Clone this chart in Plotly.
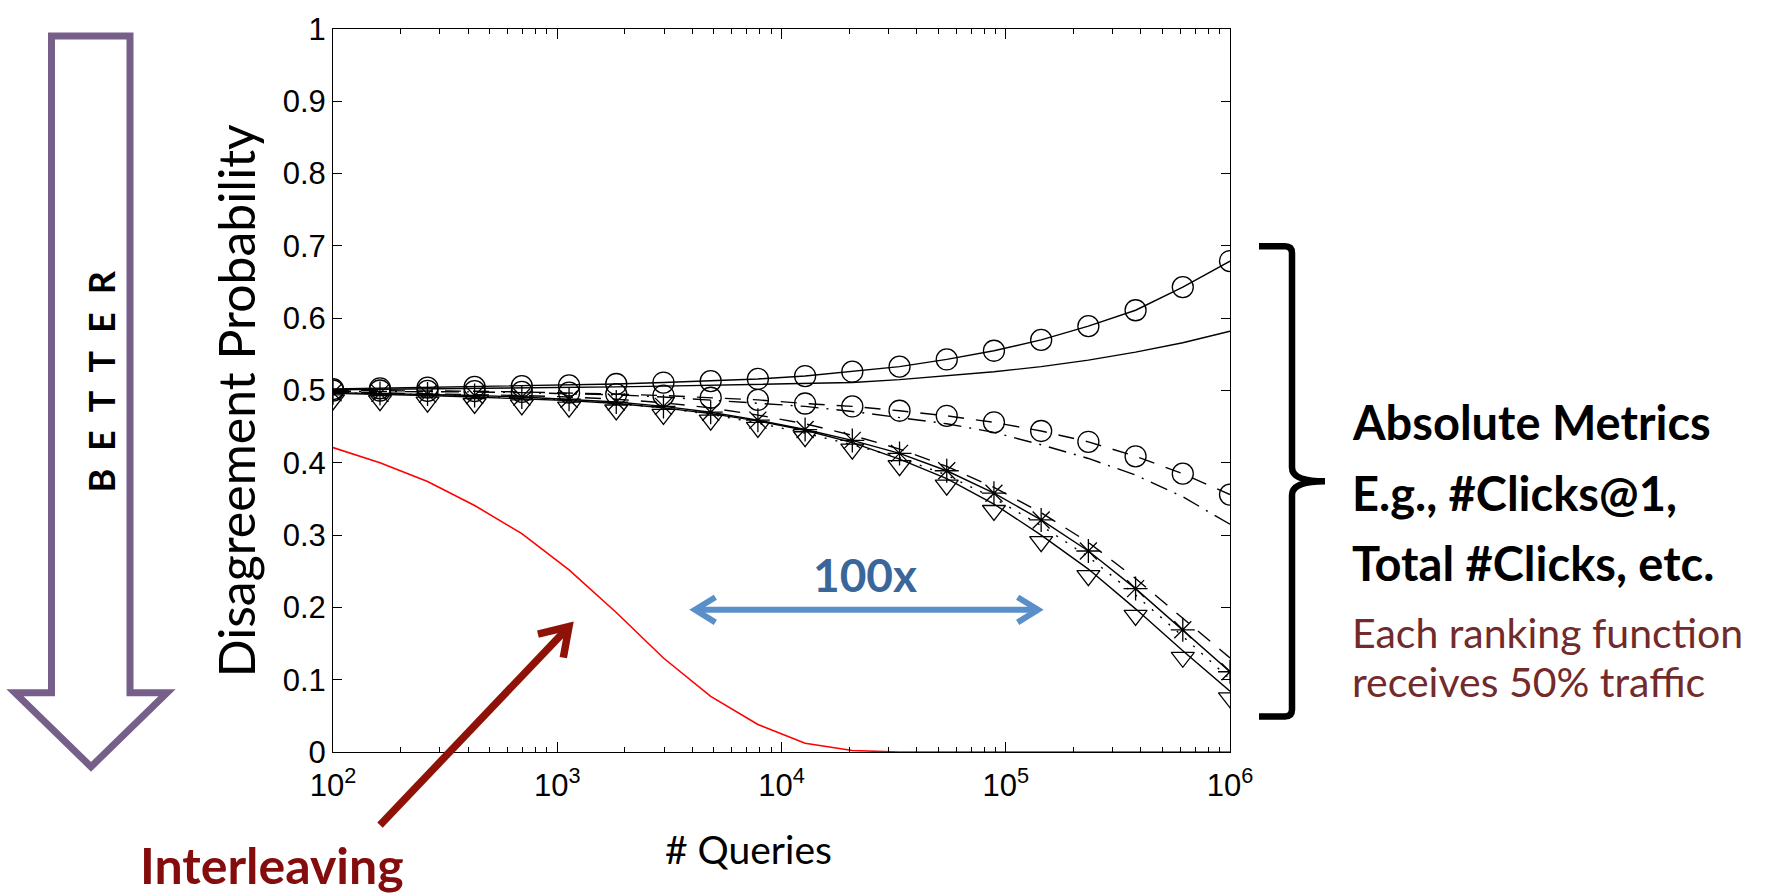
import math
import plotly.graph_objects as go

# ---------------- data ----------------
queries = [100, 162, 264, 428, 695, 1129, 1833, 2976, 4833, 7848, 12743, 20691,
           33598, 54556, 88587, 143845, 233572, 379269, 615848, 1000000]

circ_solid = [0.502, 0.503, 0.504, 0.505, 0.506, 0.507, 0.509, 0.511, 0.513, 0.516,
              0.520, 0.526, 0.533, 0.543, 0.555, 0.570, 0.589, 0.611, 0.643, 0.679]
solid_plain = [0.501, 0.5015, 0.502, 0.503, 0.5035, 0.504, 0.505, 0.506, 0.507, 0.508,
               0.5095, 0.511, 0.515, 0.520, 0.526, 0.533, 0.542, 0.553, 0.566, 0.582]
circ_dashed = [0.500, 0.500, 0.4995, 0.499, 0.498, 0.497, 0.495, 0.493, 0.490, 0.487,
               0.482, 0.478, 0.472, 0.465, 0.456, 0.444, 0.429, 0.409, 0.385, 0.356]
dashdot_plain = [0.499, 0.499, 0.4985, 0.498, 0.497, 0.4955, 0.494, 0.491, 0.487, 0.483,
                 0.478, 0.471, 0.463, 0.454, 0.442, 0.425, 0.406, 0.383, 0.353, 0.315]
star_solid = [0.497, 0.496, 0.495, 0.493, 0.491, 0.488, 0.484, 0.478, 0.470, 0.459,
              0.446, 0.431, 0.413, 0.389, 0.358, 0.321, 0.278, 0.226, 0.169, 0.111]
dashed_low = [0.498, 0.497, 0.496, 0.495, 0.493, 0.491, 0.488, 0.483, 0.476, 0.466,
              0.454, 0.438, 0.419, 0.395, 0.366, 0.331, 0.290, 0.240, 0.185, 0.130]
dotted_low = [0.497, 0.496, 0.494, 0.492, 0.490, 0.487, 0.482, 0.476, 0.467, 0.455,
              0.441, 0.425, 0.407, 0.383, 0.351, 0.313, 0.270, 0.217, 0.160, 0.101]
tri_line = [0.496, 0.495, 0.493, 0.491, 0.489, 0.486, 0.482, 0.476, 0.468, 0.458,
            0.445, 0.428, 0.405, 0.378, 0.343, 0.300, 0.253, 0.198, 0.140, 0.084]
tri_marks = [0.487, 0.486, 0.484, 0.482, 0.480, 0.477, 0.473, 0.467, 0.459, 0.449,
             0.436, 0.419, 0.396, 0.369, 0.334, 0.291, 0.244, 0.189, 0.131, 0.075]
interleaving = [0.421, 0.400, 0.374, 0.341, 0.302, 0.252, 0.193, 0.130, 0.077, 0.038,
                0.012, 0.002, 0, 0, 0, 0, 0, 0, 0, 0]

x_tickvals = [1e2, 1e3, 1e4, 1e5, 1e6]
x_ticktext = ["10<sup>2</sup>", "10<sup>3</sup>", "10<sup>4</sup>", "10<sup>5</sup>", "10<sup>6</sup>"]
x_minor = [k * 10 ** d for d in range(2, 6) for k in range(2, 10)]
y_tickvals = [0, 0.1, 0.2, 0.3, 0.4, 0.5, 0.6, 0.7, 0.8, 0.9, 1]
y_ticktext = ["0", "0.1", "0.2", "0.3", "0.4", "0.5", "0.6", "0.7", "0.8", "0.9", "1"]

# ---------------- layout geometry ----------------
FW, FH = 1790, 895
PL, PR, PT, PB = 333, 1230, 20, 752   # plot area in pixels
PW, PH = PR - PL, PB - PT


def P(px, py):
    return ((px - PL) / PW, (PB - py) / PH)


def poly(points, close=False):
    s = "M %.5f,%.5f" % P(*points[0])
    for p in points[1:]:
        s += " L %.5f,%.5f" % P(*p)
    if close:
        s += " Z"
    return s


fig = go.Figure()

LW = 1.4
mk = dict(color="black", width=1.3)

fig.add_trace(go.Scatter(x=queries, y=interleaving, mode="lines",
                         line=dict(color="#ff0000", width=1.6)))
fig.add_trace(go.Scatter(x=queries, y=solid_plain, mode="lines",
                         line=dict(color="black", width=LW)))
fig.add_trace(go.Scatter(x=queries, y=dashdot_plain, mode="lines",
                         line=dict(color="black", width=LW, dash="18px,8px,2px,8px")))
fig.add_trace(go.Scatter(x=queries, y=dashed_low, mode="lines",
                         line=dict(color="black", width=LW, dash="16px,12px")))
fig.add_trace(go.Scatter(x=queries, y=dotted_low, mode="lines",
                         line=dict(color="black", width=LW, dash="2px,9px")))
fig.add_trace(go.Scatter(x=queries, y=tri_line, mode="lines",
                         line=dict(color="black", width=LW)))
fig.add_trace(go.Scatter(x=queries, y=tri_marks, mode="markers",
                         marker=dict(symbol="triangle-down-open", size=20, line=mk, color="black")))
fig.add_trace(go.Scatter(x=queries, y=star_solid, mode="lines+markers",
                         line=dict(color="black", width=LW),
                         marker=dict(symbol="asterisk-open", size=20, line=mk, color="black")))
fig.add_trace(go.Scatter(x=queries, y=circ_dashed, mode="lines+markers",
                         line=dict(color="black", width=LW, dash="16px,12px"),
                         marker=dict(symbol="circle-open", size=21, line=mk, color="black")))
fig.add_trace(go.Scatter(x=queries, y=circ_solid, mode="lines+markers",
                         line=dict(color="black", width=LW),
                         marker=dict(symbol="circle-open", size=21, line=mk, color="black")))

tickfont = dict(family="Liberation Sans, Arial, sans-serif", size=31, color="black")

fig.update_xaxes(type="log", range=[2, 6], tickvals=x_tickvals, ticktext=x_ticktext,
                 ticks="inside", ticklen=10, tickwidth=1, tickcolor="black",
                 showline=True, linecolor="black", linewidth=1, mirror="ticks",
                 showgrid=False, zeroline=False, tickfont=tickfont, ticklabelstandoff=6,
                 minor=dict(tickmode="array", tickvals=x_minor, ticks="inside", ticklen=5,
                            tickwidth=1, tickcolor="black", showgrid=False))
fig.update_yaxes(range=[0, 1], tickvals=y_tickvals, ticktext=y_ticktext,
                 ticks="inside", ticklen=9, tickwidth=1, tickcolor="black",
                 showline=True, linecolor="black", linewidth=1, mirror="ticks",
                 showgrid=False, zeroline=False, tickfont=tickfont)

shapes = []
# purple "BETTER" arrow
purple = "#76608A"
arrow_pts = [(51.5, 27), (130, 27), (130, 692), (167, 692), (91, 767), (15, 692), (51.5, 692)]
shapes.append(dict(type="path", xref="paper", yref="paper", path=poly(arrow_pts, close=True),
                   line=dict(color=purple, width=7), fillcolor="white", layer="above"))

# curly bracket
br = ("M %.5f,%.5f L %.5f,%.5f Q %.5f,%.5f %.5f,%.5f L %.5f,%.5f Q %.5f,%.5f %.5f,%.5f "
      "Q %.5f,%.5f %.5f,%.5f L %.5f,%.5f Q %.5f,%.5f %.5f,%.5f L %.5f,%.5f") % (
    *P(1259, 240), *P(1285, 240), *P(1292, 240), *P(1292, 247), *P(1292, 464),
    *P(1292, 478), *P(1325, 478), *P(1292, 478), *P(1292, 492), *P(1292, 709),
    *P(1292, 716), *P(1285, 716), *P(1259, 716))
shapes.append(dict(type="path", xref="paper", yref="paper", path=br,
                   line=dict(color="black", width=6.5)))


def chevron(tip, frm, length, ang_deg):
    dx, dy = frm[0] - tip[0], frm[1] - tip[1]
    n = math.hypot(dx, dy)
    ux, uy = dx / n, dy / n
    a = math.radians(ang_deg)
    p1 = (tip[0] + length * (ux * math.cos(a) - uy * math.sin(a)),
          tip[1] + length * (ux * math.sin(a) + uy * math.cos(a)))
    p2 = (tip[0] + length * (ux * math.cos(-a) - uy * math.sin(-a)),
          tip[1] + length * (ux * math.sin(-a) + uy * math.cos(-a)))
    return poly([p1, tip, p2])


# blue double arrow
blue = "#5B8FC9"
b0, b1 = (695, 608), (1038, 608)
shapes.append(dict(type="path", xref="paper", yref="paper", path=poly([b0, b1]),
                   line=dict(color=blue, width=6)))
shapes.append(dict(type="path", xref="paper", yref="paper", path=chevron(b0, b1, 24, 32),
                   line=dict(color=blue, width=6)))
shapes.append(dict(type="path", xref="paper", yref="paper", path=chevron(b1, b0, 24, 32),
                   line=dict(color=blue, width=6)))

# red arrow to the interleaving curve
darkred = "#8E1208"
r0, r1 = (380, 826), (569, 625)
shapes.append(dict(type="path", xref="paper", yref="paper", path=poly([r0, r1]),
                   line=dict(color=darkred, width=7.5)))
shapes.append(dict(type="path", xref="paper", yref="paper", path=chevron(r1, r0, 32, 33),
                   line=dict(color=darkred, width=7.5)))

fig.update_layout(shapes=shapes)

SLIDE = "Lato, 'Open Sans', sans-serif"
ann = []


def add_text(text, px, py, size, color="black", bold=False, xanchor="center",
             yanchor="middle", angle=0):
    x, y = P(px, py)
    t = "<b>%s</b>" % text if bold else text
    ann.append(dict(text=t, x=x, y=y, xref="paper", yref="paper", showarrow=False,
                    xanchor=xanchor, yanchor=yanchor, textangle=angle,
                    font=dict(family=SLIDE, size=size, color=color)))


add_text("B\u2002E\u2002T\u2002T\u2002E\u2002R", 101, 377, 36, bold=True, angle=-90)
add_text("Disagreement Probability", 236, 397, 50, angle=-90)
add_text("# Queries", 748, 850, 39)
add_text("100x", 865, 572, 46, color="#3B6699", bold=True)
add_text("Interleaving", 272, 866, 50, color="#840C0C", bold=True)
add_text("Absolute Metrics", 1350, 418, 47, bold=True, xanchor="left")
add_text("E.g., #Clicks@1,", 1350, 490, 47, bold=True, xanchor="left")
add_text("Total #Clicks, etc.", 1350, 561, 47, bold=True, xanchor="left")
add_text("Each ranking function", 1350, 631, 41, color="#722A2A", xanchor="left")
add_text("receives 50% traffic", 1350, 681, 41, color="#722A2A", xanchor="left")

fig.update_layout(annotations=ann, width=FW, height=FH, autosize=False,
                  margin=dict(l=PL, r=FW - PR, t=PT, b=FH - PB, pad=0),
                  paper_bgcolor="white", plot_bgcolor="white", showlegend=False)

fig.write_html("out.html")
